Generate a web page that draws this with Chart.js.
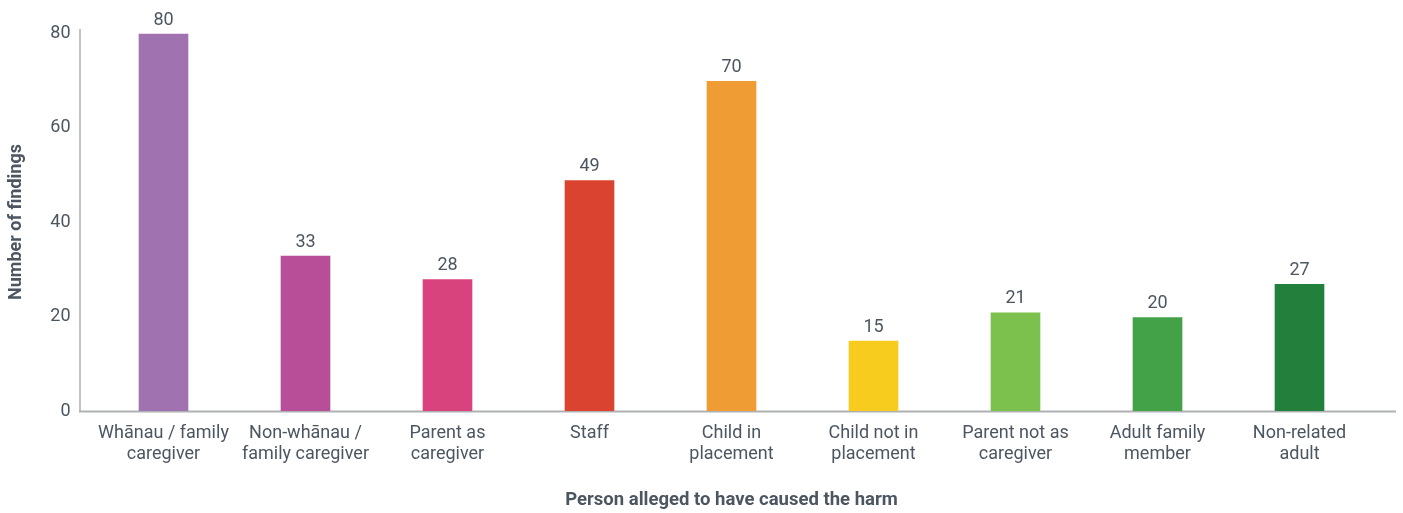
<!DOCTYPE html>
<html>
<head>
<meta charset="utf-8">
<script src="https://cdn.jsdelivr.net/npm/chart.js@4"></script>
<style>
  html, body { margin: 0; padding: 0; background: #ffffff; }
  #wrap { width: 1403px; height: 513px; position: relative; }
</style>
</head>
<body>
<div id="wrap"><canvas id="c"></canvas></div>
<script>
// Findings by person alleged to have caused the harm
const categories = [
  ['Whānau / family', 'caregiver'],
  ['Non-whānau /', 'family caregiver'],
  ['Parent as', 'caregiver'],
  ['Staff'],
  ['Child in', 'placement'],
  ['Child not in', 'placement'],
  ['Parent not as', 'caregiver'],
  ['Adult family', 'member'],
  ['Non-related', 'adult']
];
const findings = [80, 33, 28, 49, 70, 15, 21, 20, 27];
const barColours = ['#A072B0', '#B84D98', '#D8427D', '#DA432F', '#F09C35', '#F8CB1F', '#7CC14E', '#43A148', '#237F3C'];
const yTicks = [0, 20, 40, 60, 80];

const TEXT = '#4C5661';
const AXIS = '#AEB0B2';

// Axis lines that run a little past the plot area, plus value labels on bars
const decorations = {
  id: 'decorations',
  beforeDatasetsDraw(chart) {
    const { ctx, chartArea } = chart;
    ctx.save();
    ctx.strokeStyle = AXIS;
    ctx.lineWidth = 1.5;
    ctx.beginPath();
    ctx.moveTo(80, 29);
    ctx.lineTo(80, chartArea.bottom);
    ctx.stroke();
    ctx.lineWidth = 2;
    ctx.beginPath();
    ctx.moveTo(79, chartArea.bottom + 0.5);
    ctx.lineTo(1396, chartArea.bottom + 0.5);
    ctx.stroke();
    ctx.restore();
  },
  afterDatasetsDraw(chart) {
    const { ctx } = chart;
    const meta = chart.getDatasetMeta(0);
    ctx.save();
    ctx.fillStyle = TEXT;
    ctx.font = '18px Roboto';
    ctx.textAlign = 'center';
    ctx.textBaseline = 'bottom';
    meta.data.forEach((bar, i) => {
      ctx.fillText(String(findings[i]), bar.x, bar.y - 4);
    });
    ctx.restore();
  }
};

new Chart(document.getElementById('c'), {
  type: 'bar',
  data: {
    labels: categories,
    datasets: [{
      data: findings,
      backgroundColor: barColours,
      borderColor: 'rgba(255,255,255,0.35)',
      borderWidth: 1,
      barThickness: 51
    }]
  },
  options: {
    responsive: true,
    maintainAspectRatio: false,
    animation: false,
    events: [],
    layout: { padding: { top: 33, right: 32.5, left: 0, bottom: 0 } },
    plugins: { legend: { display: false }, tooltip: { enabled: false } },
    scales: {
      x: {
        grid: { display: false, drawTicks: false },
        border: { display: false },
        ticks: {
          color: TEXT,
          font: { family: 'Roboto', size: 18, lineHeight: 1.17 },
          padding: 12,
          maxRotation: 0,
          autoSkip: false
        },
        title: {
          display: true,
          text: 'Person alleged to have caused the harm',
          color: TEXT,
          font: { family: 'Roboto', size: 18.5, weight: 'bold' },
          padding: { top: 0, bottom: 2 }
        },
        afterFit(scale) { scale.height = 102; }
      },
      y: {
        min: 0,
        max: 80,
        afterBuildTicks(scale) { scale.ticks = yTicks.map(v => ({ value: v })); },
        grid: { display: false, drawTicks: false },
        border: { display: false },
        ticks: {
          color: TEXT,
          font: { family: 'Roboto', size: 18 },
          padding: 22
        },
        title: {
          display: true,
          text: 'Number of findings',
          color: TEXT,
          font: { family: 'Roboto', size: 18, weight: 'bold' },
          padding: { top: 6, bottom: 0 }
        },
        afterFit(scale) { scale.width = 92.5; }
      }
    }
  },
  plugins: [decorations]
});
</script>
</body>
</html>
